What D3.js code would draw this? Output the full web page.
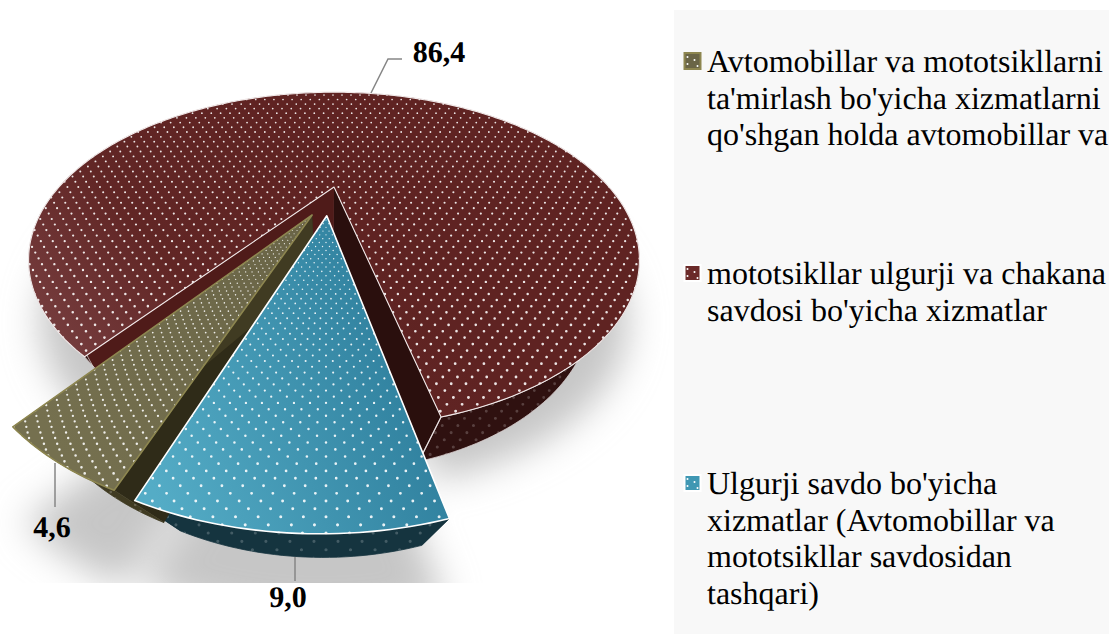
<!DOCTYPE html>
<html>
<head>
<meta charset="utf-8">
<script src="https://cdn.jsdelivr.net/npm/d3@7/dist/d3.min.js"></script>
<style>
  html, body { margin: 0; padding: 0; background: #fff; }
  svg { display: block; }
  text { font-family: "Liberation Serif", serif; fill: #000; text-rendering: geometricPrecision; }
  .legend-text { font-size: 32px; }
  .value-label { font-size: 30px; font-weight: bold; text-anchor: middle; }
  .leader { fill: none; stroke: #868686; stroke-width: 1.5; }
</style>
</head>
<body>
<svg width="1109" height="634"></svg>
<script>
"use strict";

const categories = ["Avtomobillar", "Mototsikllar", "Ulgurji"];
const values = [4.6, 86.4, 9.0];
const valueLabels = ["4,6", "86,4", "9,0"];
const legendLines = [
  ["Avtomobillar va mototsikllarni", "ta'mirlash bo'yicha xizmatlarni", "qo'shgan holda avtomobillar va"],
  ["mototsikllar ulgurji va chakana", "savdosi bo'yicha xizmatlar"],
  ["Ulgurji savdo bo'yicha", "xizmatlar (Avtomobillar va", "mototsikllar savdosidan", "tashqari)"]
];

const svg = d3.select("svg");
const width = +svg.attr("width");
const height = +svg.attr("height");
const rad = d => d * Math.PI / 180;

// perspective of the disc
const cx = 334, cy = 187, radiusX = 275, radiusY = 136, tilt = 0.435;
const vanish = [333, 632];
const depth = 0.15;

const project = (u, v, z) => {
  const w = 1 - tilt * v;
  const x = cx + radiusX * u / w;
  const y = cy + radiusY * v / w;
  if (!z) return [x, y];
  const t = depth / (w + depth);
  return [x + (vanish[0] - x) * t, y + (vanish[1] - y) * t];
};

const slices = d3.pie().sort(null).value(d => d).startAngle(rad(199.44)).endAngle(rad(199.44 + 360))(values);

const styles = [
  { off: [-0.073, 0.189], scale: 1, shadowDy: 95, top: "url(#gradOlive)", edge: "#8d8650", edgeW: 1.6, rim: "#403b22", wallA: "#2f2b18", wallB: "#403b22",
    rowGap: y => 3 + (y - 212) * 0.012, colGap: y => 4 + (y - 212) * 0.04, dot: y => 0.5 + (y - 212) * 0.0032, y0: 212, col: 316 },
  { off: [0, 0], scale: 1, shadowDy: 62, top: "url(#gradMaroon)", edge: "#f1e9e9", edgeW: 1.1, rim: "#2f1110", wallA: "#4f1b19", wallB: "#2a0f0d",
    rowGap: y => 4.5 + (y - 95) * 0.008, colGap: y => 9 + (y - 95) * 0.02, dot: y => 0.85 + (y - 95) * 0.002, y0: 95, col: 333 },
  { off: [-0.024, 0.194], scale: 1.015, shadowDy: 85, top: "url(#gradBlue)", edge: "#ffffff", edgeW: 1.6, rim: "#15343f", wallA: "#15343f", wallB: "#15343f",
    rowGap: y => 3.5 + (y - 213) * 0.015, colGap: y => 5 + (y - 213) * 0.058, dot: y => 0.6 + (y - 213) * 0.003, y0: 213, col: 326 }
];

const line = d3.line();
const closed = d3.line().curve(d3.curveLinearClosed);

const rimPoint = (slice, style, a, z) =>
  project(style.scale * Math.sin(a) + style.off[0], -style.scale * Math.cos(a) + style.off[1], z);

const arcPoints = (slice, style, z) =>
  d3.range(0, 1.0001, 1 / Math.max(8, Math.round((slice.endAngle - slice.startAngle) / rad(1))))
    .map(f => rimPoint(slice, style, slice.startAngle + f * (slice.endAngle - slice.startAngle), z));

const topShape = (slice, style) => [project(style.off[0], style.off[1], false), ...arcPoints(slice, style, false)];

// staggered dot texture, rows get wider apart towards the viewer
const dotPath = (style, x0, x1, yEnd) => {
  const p = d3.path();
  let y = style.y0, row = 0;
  while (y < yEnd) {
    const gap = style.colGap(y), r = style.dot(y);
    const shift = row % 2 ? gap / 2 : 0;
    const first = Math.ceil((x0 - style.col) / gap) - 1;
    const last = Math.floor((x1 - style.col) / gap) + 1;
    d3.range(first, last + 1).forEach(j => {
      const x = style.col + j * gap + shift;
      p.moveTo(x + r, y);
      p.arc(x, y, r, 0, 2 * Math.PI);
    });
    y += style.rowGap(y);
    row++;
  }
  return p.toString();
};

const defs = svg.append("defs");

const gradient = (id, coords, stops) => {
  const g = defs.append("linearGradient").attr("id", id).attr("gradientUnits", "userSpaceOnUse")
    .attr("x1", coords[0]).attr("y1", coords[1]).attr("x2", coords[2]).attr("y2", coords[3]);
  stops.forEach(s => g.append("stop").attr("offset", s[0]).attr("stop-color", s[1]));
};
gradient("gradMaroon", [60, 350, 300, 150], [[0, "#763d3e"], [0.45, "#612625"], [1, "#5f2322"]]);
gradient("gradBlue", [150, 480, 440, 380], [[0, "#54acc6"], [1, "#2d7d9b"]]);
gradient("gradOlive", [40, 420, 300, 240], [[0, "#75704f"], [1, "#6a6547"]]);

defs.append("filter").attr("id", "blur").attr("x", "-20%").attr("y", "-20%").attr("width", "140%").attr("height", "140%")
  .append("feGaussianBlur").attr("stdDeviation", 18);
defs.append("clipPath").attr("id", "shadowClip").append("rect")
  .attr("x", 0).attr("y", 0).attr("width", 670).attr("height", 583);

// legend panel
svg.append("rect").attr("x", 674).attr("y", 10).attr("width", width - 674).attr("height", height - 10).attr("fill", "#f8f8f8");

// shadow under the whole pie
const shadow = svg.append("g").attr("clip-path", "url(#shadowClip)")
  .append("g").attr("filter", "url(#blur)");
slices.forEach((s, i) => {
  shadow.append("path").attr("d", closed(topShape(s, styles[i]))).attr("fill", "#c6c6c6")
    .attr("stroke", "#c6c6c6").attr("stroke-width", 2)
    .attr("transform", `translate(${cx * 0.04},${styles[i].shadowDy}) scale(0.96,1)`);
});

const drawWalls = (g, slice, style) => {
  const apexTop = project(style.off[0], style.off[1], false);
  const apexLow = project(style.off[0], style.off[1], true);
  const wall = (a, color) => {
    g.append("path").attr("fill", color)
      .attr("d", closed([apexTop, rimPoint(slice, style, a, false), rimPoint(slice, style, a, true), apexLow]));
  };
  wall(slice.startAngle, style.wallA);
  wall(slice.endAngle, style.wallB);
};

const drawRim = (g, slice, style, i) => {
  const top = arcPoints(slice, style, false);
  const low = arcPoints(slice, style, true);
  const rim = closed([...top, ...low.slice().reverse()]);
  g.append("path").attr("d", rim).attr("fill", style.rim).attr("stroke", i === 1 ? "#d9cfcf" : style.rim).attr("stroke-width", 0.8);
  const id = `rimClip${i}`;
  defs.append("clipPath").attr("id", id).append("path").attr("d", rim);
  g.append("path").attr("clip-path", `url(#${id})`).attr("d", dotPath(style, 0, 670, 600))
    .attr("fill", "#fff").attr("opacity", 0.2);
  // the white seam where the rim meets the wall
  if (i === 1) {
    g.append("path").attr("d", line([rimPoint(slice, style, slice.endAngle, false), rimPoint(slice, style, slice.endAngle, true)]))
      .attr("stroke", "#e8e0e0").attr("stroke-width", 1.2);
  }
};

const drawTop = (g, slice, style, i) => {
  const shape = closed(topShape(slice, style));
  g.append("path").attr("d", shape).attr("fill", style.top);
  const id = `topClip${i}`;
  defs.append("clipPath").attr("id", id).append("path").attr("d", shape);
  g.append("path").attr("clip-path", `url(#${id})`).attr("d", dotPath(style, 0, 670, 600))
    .attr("fill", "#fff").attr("opacity", 0.88);
  g.append("path").attr("d", shape).attr("fill", "none").attr("stroke", style.edge)
    .attr("stroke-width", style.edgeW).attr("stroke-linejoin", "round");
};

const pieG = svg.append("g");
const sliceG = categories.map(c => pieG.append("g").attr("class", c));

// maroon first, then the blue rim so the olive sliver can lie over it
[1, 2, 0].forEach(i => {
  drawWalls(sliceG[i], slices[i], styles[i]);
  drawRim(sliceG[i], slices[i], styles[i], i);
  if (i !== 2) drawTop(sliceG[i], slices[i], styles[i], i);
});
sliceG[1].lower();
sliceG[0].raise();
const blueTop = pieG.append("g").attr("class", "blue-top");
drawTop(blueTop, slices[2], styles[2], 2);

// value labels and their leader lines
const labelPos = [[52, 537], [439, 62], [288, 607]];
const leaders = [
  [[55, 463], [55, 507]],
  [[371, 93], [388, 59], [402, 59]],
  [[295, 557], [295, 581]]
];
leaders.forEach(l => svg.append("path").attr("class", "leader").attr("d", line(l)));
svg.selectAll(".value-label").data(valueLabels).enter().append("text")
  .attr("class", "value-label")
  .attr("x", (d, i) => labelPos[i][0])
  .attr("y", (d, i) => labelPos[i][1])
  .text(d => d);

// legend
const legendTop = [72, 284, 494];
const lineStep = 36.7;
const markerFill = ["#6a6547", "#6b2a29", "#3f97b3"];
const legend = svg.append("g");
legendLines.forEach((lines, i) => {
  const g = legend.append("g");
  const my = legendTop[i] - 19;
  g.append("rect").attr("x", 684.5).attr("y", my).attr("width", 16).attr("height", 16)
    .attr("fill", markerFill[i])
    .attr("stroke", i === 0 ? "#8d8650" : "#fff").attr("stroke-width", 2);
  [[3, 4], [3, 11], [10, 7], [13, 13]].forEach(p => {
    g.append("circle").attr("cx", 684.5 + p[0]).attr("cy", my + p[1]).attr("r", 1).attr("fill", "#fff");
  });
  lines.forEach((t, j) => {
    g.append("text").attr("class", "legend-text")
      .attr("x", 707).attr("y", legendTop[i] + j * lineStep).text(t);
  });
});
</script>
</body>
</html>
